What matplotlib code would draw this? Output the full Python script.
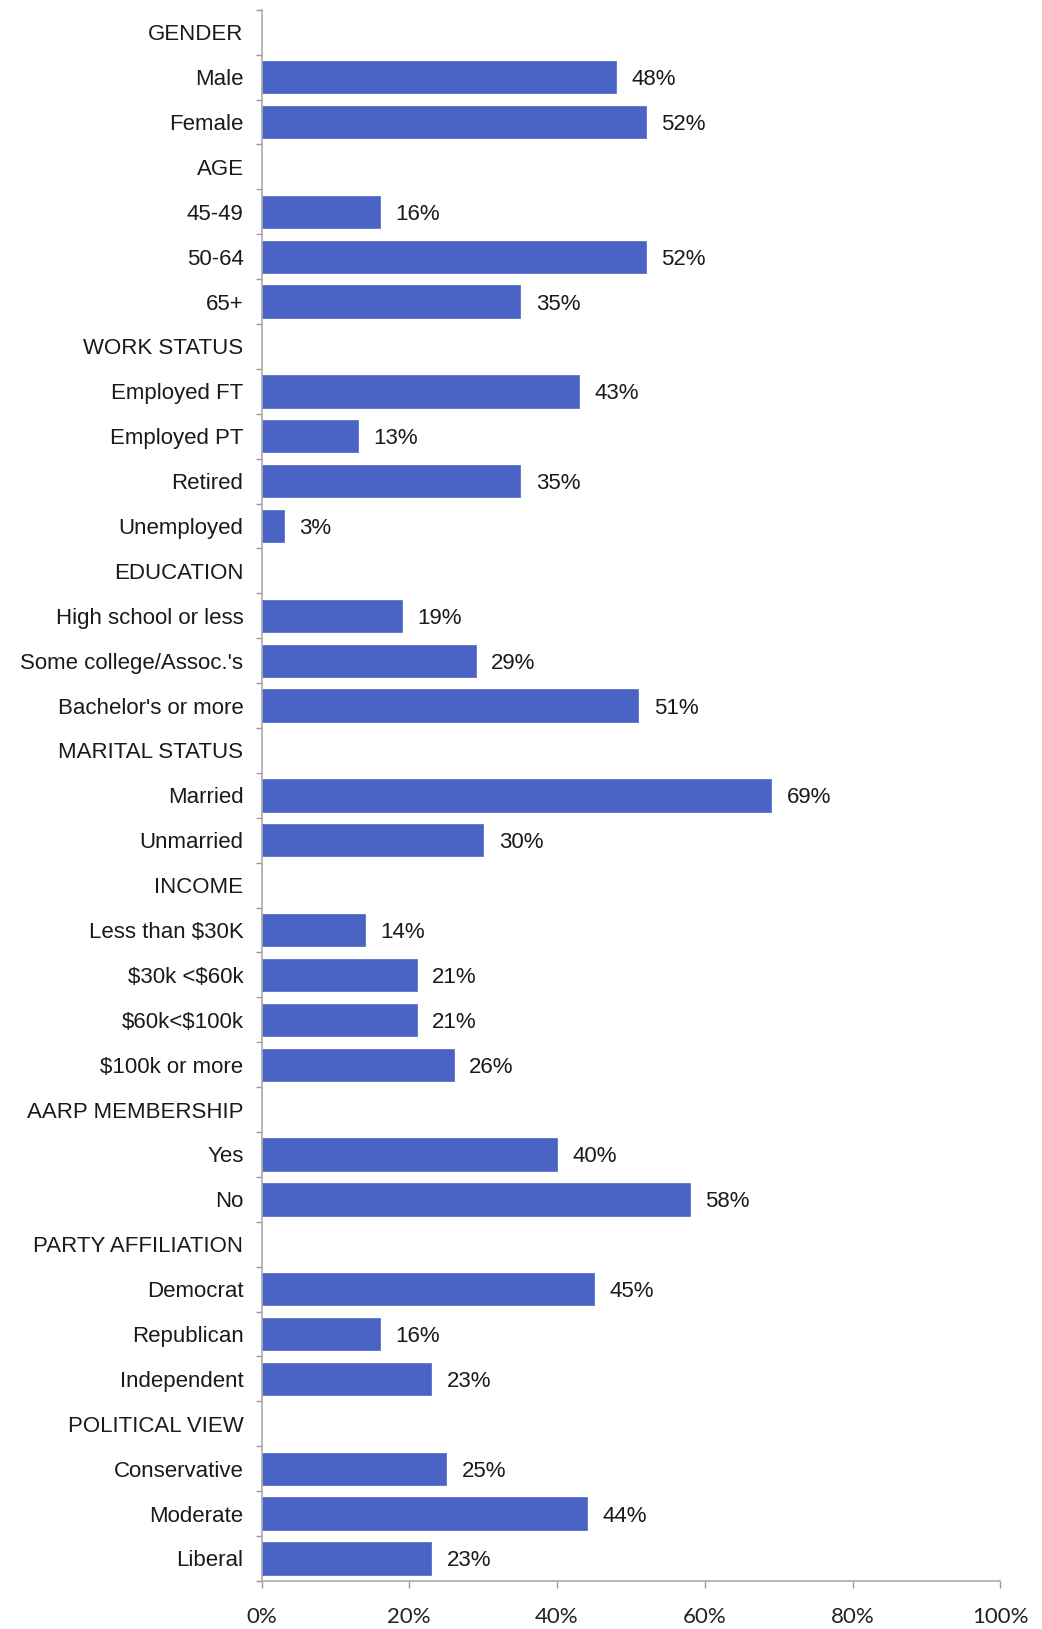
import matplotlib.pyplot as plt
import numpy as np

# Rows top to bottom; headers have value None
labels = ["GENDER", "Male", "Female",
          "AGE", "45-49", "50-64", "65+",
          "WORK STATUS", "Employed FT", "Employed PT", "Retired", "Unemployed",
          "EDUCATION", "High school or less", "Some college/Assoc.'s", "Bachelor's or more",
          "MARITAL STATUS", "Married", "Unmarried",
          "INCOME", "Less than \\$30K", "\\$30k <\\$60k", "\\$60k<\\$100k", "\\$100k or more",
          "AARP MEMBERSHIP", "Yes", "No",
          "PARTY AFFILIATION", "Democrat", "Republican", "Independent",
          "POLITICAL VIEW", "Conservative", "Moderate", "Liberal"]
values = [None, 48, 52,
          None, 16, 52, 35,
          None, 43, 13, 35, 3,
          None, 19, 29, 51,
          None, 69, 30,
          None, 14, 21, 21, 26,
          None, 40, 58,
          None, 45, 16, 23,
          None, 25, 44, 23]
xticks = [0, 20, 40, 60, 80, 100]

plt.rcParams['font.family'] = ['Liberation Sans', 'DejaVu Sans']

fig = plt.figure(figsize=(10.42, 16.29), dpi=100)
ax = fig.add_axes([0.251, 0.0295, 0.709, 0.9645])

n = len(labels)
y = np.arange(n)
bar_color = '#4a64c6'
for yi, v in zip(y, values):
    if v is None:
        continue
    ax.barh(yi, v, height=0.72, color=bar_color, edgecolor='#5a74d0', linewidth=0.6)
    ax.text(v + 2.1, yi, f"{v}%", va='center_baseline', ha='left', fontsize=16, color='#1a1a1a')

ax.set_xlim(0, 100)
ax.set_ylim(n - 0.5, -0.5)
ax.set_yticks(y)
ax.set_yticklabels(labels, fontsize=16, color='#1a1a1a')
ax.tick_params(axis='y', which='major', length=0, pad=13)
ax.set_yticks(np.arange(n + 1) - 0.5, minor=True)
ax.tick_params(axis='y', which='minor', length=4, color='#999999', width=1)

ax.set_xticks(xticks)
ax.set_xticklabels([f"{t}%" for t in xticks], fontsize=16, family=['Lato', 'DejaVu Sans'], color='#222222')
ax.tick_params(axis='x', length=5, color='#999999', width=1, pad=14)

for side in ['top', 'right']:
    ax.spines[side].set_visible(False)
for side in ['left', 'bottom']:
    ax.spines[side].set_color('#aaaaaa')
    ax.spines[side].set_linewidth(1.2)

fig.savefig('out.png', dpi=100)
